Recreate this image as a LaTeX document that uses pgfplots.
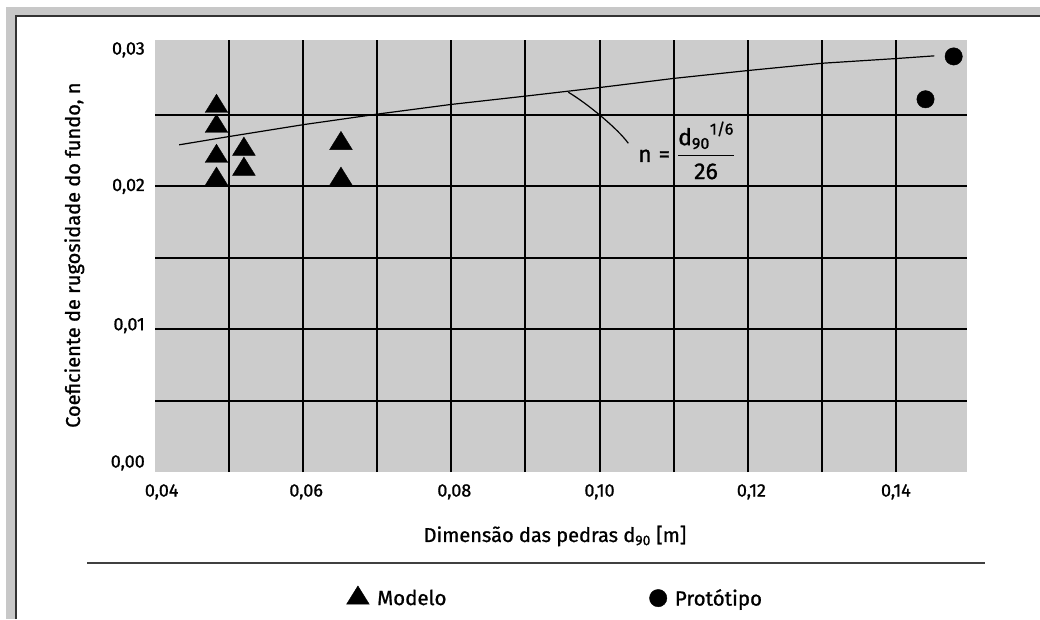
\documentclass[border=0pt]{standalone}
\usepackage{fontspec}
\setmainfont{Fira Sans}[FakeBold=1]
\usepackage{amsmath}
\usepackage{pgfplots}
\pgfplotsset{compat=1.18}
\definecolor{plotgray}{RGB}{204,204,204}
\definecolor{framegray}{RGB}{200,200,200}
\begin{document}
\begin{tikzpicture}[x=1pt,y=1pt]
\useasboundingbox (0,0) rectangle (1040,619);
\fill[white] (0,0) rectangle (1040,619);
\fill[framegray] (6,0) rectangle (1040,612);
\fill[white] (17,0) rectangle (1040,602);
\draw[line width=2pt, black!80] (16,0) -- (16,603) -- (1040,603);
\begin{axis}[
  at={(155pt,147pt)}, anchor=south west,
  width=812pt, height=432pt, scale only axis,
  xmin=0.04, xmax=0.1496, ymin=0, ymax=0.03025,
  scaled x ticks=false, scaled y ticks=false,
  axis background/.style={fill=plotgray},
  axis line style={draw=none},
  major tick length=0pt, minor tick length=0pt,
  xtick={0.0409,0.0604,0.0804,0.1,0.1205,0.14},
  xticklabels={{0,04},{0,06},{0,08},{0,10},{0,12},{0,14}},
  ytick={0.00064,0.01025,0.0200,0.02956},
  yticklabels={{0,00},{0,01},{0,02},{0,03}},
  minor xtick={0.05,0.06,0.07,0.08,0.09,0.10,0.11,0.12,0.13,0.14},
  minor ytick={0.005,0.01,0.015,0.02,0.025},
  xminorgrids, yminorgrids,
  minor grid style={black, line width=2pt},
  ticklabel style={font=\fontsize{18}{18}\selectfont, inner sep=0pt},
  xticklabel style={anchor=base, yshift=-24.5pt},
  yticklabel style={anchor=east, xshift=-10pt},
  xlabel={Dimensão das pedras d$_{\text{90}}$ [m]},
  xlabel style={at={(axis description cs:0.4926,-0.162)}, anchor=base, font=\fontsize{20}{20}\selectfont, inner sep=0pt},
  ylabel={Coeficiente de rugosidade do fundo, n},
  ylabel style={at={(axis description cs:-0.0924,0.502)}, anchor=base, font=\fontsize{20}{20}\selectfont, inner sep=0pt},
  legend columns=2,
  legend style={at={(axis description cs:0.493,-0.2905)}, anchor=center, draw=none, fill=none,
    font=\fontsize{20.5}{20.5}\selectfont,
    /tikz/every odd column/.append style={column sep=6pt},
    /tikz/every even column/.append style={column sep=201pt}},
]
\addplot[black, line width=1.2pt, forget plot] coordinates {
  (0.04326,0.02291) (0.05,0.02349) (0.06,0.02432) (0.07,0.02506) (0.08,0.02574)
  (0.09,0.02632) (0.10,0.02692) (0.11,0.02756) (0.12,0.02811) (0.13,0.02862)
  (0.14,0.02895) (0.1452,0.02914)};
\addplot[only marks, mark=triangle*, mark size=13.1pt, mark options={yscale=0.93, fill=black, draw=black}] coordinates {
  (0.0483,0.0256) (0.0483,0.0242) (0.0483,0.0221) (0.0483,0.0205)
  (0.0520,0.0226) (0.0520,0.0212) (0.0651,0.0230) (0.0651,0.0205)};
\addlegendentry{Modelo}
\addplot[only marks, mark=*, mark size=8.7pt, mark options={fill=black, draw=black}] coordinates {
  (0.1478,0.0291) (0.1440,0.0261)};
\addlegendentry{Protótipo}
\end{axis}
\draw[line width=1.6pt, black!75] (87,56) -- (985,56);
\draw[line width=1.2pt] (568.3,526.8) .. controls (588,515) and (618,490) .. (628.3,475.7);
\node[anchor=base west, inner sep=0pt, font=\fontsize{23}{26}\selectfont] at (638,457)
  {$\text{n} \mathrel{\text{=}} \dfrac{{\text{d}_{\text{90}}}^{\text{1/6}}}{\text{26}}$};
\end{tikzpicture}
\end{document}
